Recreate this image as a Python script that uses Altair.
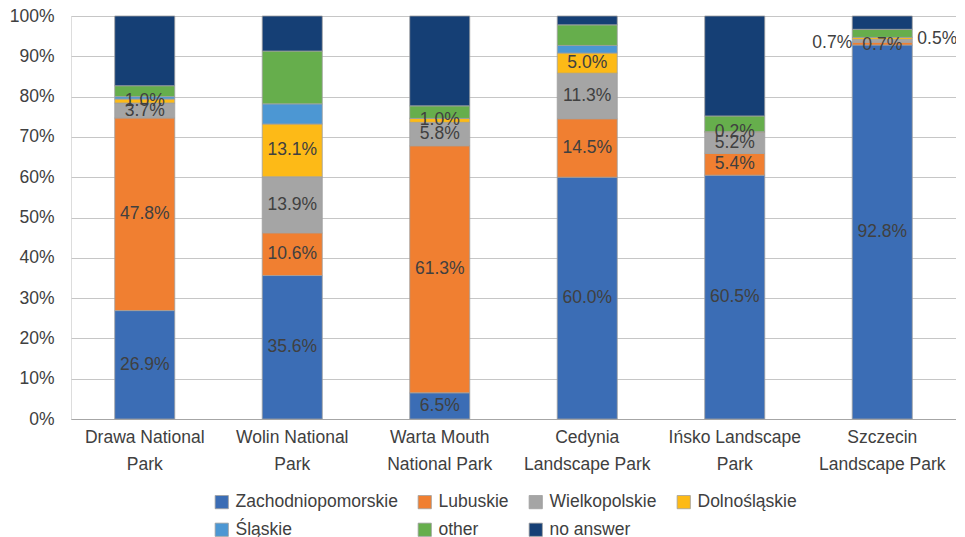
import altair as alt
import pandas as pd

parks = ["Drawa National Park", "Wolin National Park", "Warta Mouth National Park",
         "Cedynia Landscape Park", "Ińsko Landscape Park", "Szczecin Landscape Park"]
park_lines = [["Drawa National", "Park"], ["Wolin National", "Park"],
              ["Warta Mouth", "National Park"], ["Cedynia", "Landscape Park"],
              ["Ińsko Landscape", "Park"], ["Szczecin", "Landscape Park"]]
regions = ["Zachodniopomorskie", "Lubuskie", "Wielkopolskie", "Dolnośląskie",
           "Śląskie", "other", "no answer"]
colors = ["#3B6DB5", "#F07F31", "#A5A5A5", "#FDBA17", "#4C97D3", "#66AE4C", "#153F75"]

zachodniopomorskie = [26.9, 35.6, 6.5, 60.0, 60.5, 92.8]
lubuskie = [47.8, 10.6, 61.3, 14.5, 5.4, 0.7]
wielkopolskie = [3.7, 13.9, 5.8, 11.3, 5.2, 0.7]
dolnoslaskie = [1.0, 13.1, 1.0, 5.0, 0.2, 0.5]
slaskie = [0.6, 5.0, 0.0, 1.9, 0.0, 0.0]
other = [2.7, 13.1, 3.1, 5.1, 3.9, 2.0]
no_answer = [17.3, 8.7, 22.3, 2.2, 24.8, 3.3]
labelled_regions = ["Zachodniopomorskie", "Lubuskie", "Wielkopolskie", "Dolnośląskie"]

series = [zachodniopomorskie, lubuskie, wielkopolskie, dolnoslaskie, slaskie, other, no_answer]
rows = []
for ri, (reg, vals) in enumerate(zip(regions, series)):
    for park, v in zip(parks, vals):
        rows.append({"park": park, "region": reg, "value": v, "order": ri,
                     "labelled": reg in labelled_regions,
                     "label": f"{v:.1f}%"})
df = pd.DataFrame(rows)

FONT = "Liberation Sans"
FS = 17.5
TXT = "#404040"

label_expr = " : ".join(
    f"datum.label == '{p}' ? ['{a}', '{b}']" for p, (a, b) in zip(parks, park_lines)
) + " : datum.label"

base = alt.Chart(df).transform_stack(
    stack="value", groupby=["park"], sort=[alt.SortField("order", order="ascending")],
    as_=["y0", "y1"]
).transform_calculate(mid="(datum.y0 + datum.y1) / 2")

x_enc = alt.X("park:N", sort=parks, title=None,
              scale=alt.Scale(paddingInner=0.593, paddingOuter=0.2965),
              axis=alt.Axis(labelExpr=label_expr, labelAngle=0, labelFont=FONT,
                            labelFontSize=FS, labelColor=TXT, labelLineHeight=27,
                            labelPadding=9, ticks=False, domainColor="#A6A6A6",
                            domainWidth=1, grid=False))

bars = base.mark_bar(stroke="#A0A0A0", strokeWidth=0.8).encode(
    x=x_enc,
    y=alt.Y("y0:Q", title=None, scale=alt.Scale(domain=[0, 100], nice=False),
            axis=alt.Axis(values=list(range(0, 101, 10)), labelExpr="datum.value + '%'",
                          labelFont=FONT, labelFontSize=FS, labelColor=TXT,
                          labelPadding=17, ticks=False, domain=False,
                          gridColor="#C6C6C6", gridWidth=1)),
    y2="y1:Q",
    color=alt.Color("region:N", scale=alt.Scale(domain=regions, range=colors),
                    legend=alt.Legend(orient="none", legendX=142, legendY=477,
                                      direction="horizontal", columns=4, title=None,
                                      symbolType="square", symbolSize=175,
                                      symbolStrokeColor="#A0A0A0", symbolStrokeWidth=0.8,
                                      labelFont=FONT, labelFontSize=FS, labelColor=TXT,
                                      labelOffset=5, columnPadding=18, rowPadding=9,
                                      padding=0, labelLimit=300)),
    order=alt.Order("order:Q"),
)

szc = "Szczecin Landscape Park"
text_kw = dict(font=FONT, fontSize=FS, color=TXT, baseline="middle", align="center")
enc = dict(x=alt.X("park:N", sort=parks), y=alt.Y("mid:Q"), text="label:N")

main_labels = base.transform_filter(
    f"datum.labelled && !(datum.park == '{szc}' && datum.region != 'Zachodniopomorskie')"
).mark_text(**text_kw).encode(**enc)

szc_lub = base.transform_filter(
    f"datum.park == '{szc}' && datum.region == 'Lubuskie'"
).mark_text(dx=-50, dy=-1, **text_kw).encode(**enc)

szc_wie = base.transform_filter(
    f"datum.park == '{szc}' && datum.region == 'Wielkopolskie'"
).mark_text(dx=0, dy=4, **text_kw).encode(**enc)

szc_dol = base.transform_filter(
    f"datum.park == '{szc}' && datum.region == 'Dolnośląskie'"
).mark_text(dx=55, dy=1, **text_kw).encode(**enc)

chart = alt.layer(bars, main_labels, szc_lub, szc_wie, szc_dol).properties(
    width=885, height=403,
    autosize=alt.AutoSizeParams(type="none"),
    padding={"left": 63, "top": 8, "right": 0, "bottom": 118},
).configure_view(stroke=None).configure(background="white")

chart.save("out.html", embed_options={"renderer": "svg", "actions": False})
